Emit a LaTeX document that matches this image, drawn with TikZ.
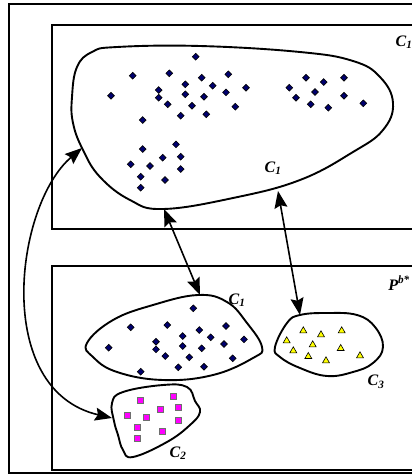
\documentclass[tikz,border=0pt]{standalone}
\usepackage{fontspec}
\setmainfont{Liberation Serif}
\usetikzlibrary{shapes.geometric,arrows.meta}
\definecolor{navy}{RGB}{0,0,110}
\definecolor{pinkpt}{RGB}{255,0,255}
\definecolor{yellowpt}{RGB}{255,255,0}
\definecolor{greyedge}{RGB}{110,110,110}
\tikzset{
  frame/.style={draw, line width=1.5pt},
  panel/.style={draw, line width=2.1pt},
  blob/.style={draw, line width=1.9pt, smooth cycle, tension=0.7},
  dia/.style={diamond, draw=black, line width=0.6pt, fill=navy, inner sep=0pt, minimum size=7pt},
  sq/.style={rectangle, draw=greyedge, line width=0.9pt, fill=pinkpt, inner sep=0pt, minimum size=6pt},
  tri/.style={regular polygon, regular polygon sides=3, draw=black, line width=0.6pt, fill=yellowpt, inner sep=0pt, minimum size=8pt},
  lab/.style={font=\fontsize{16}{16}\selectfont\bfseries\itshape, inner sep=0pt},
  head/.tip={Stealth[length=17pt,width=13pt,inset=2.5pt]},
  link/.style={line width=1.6pt, head-head}
}
\begin{document}
\begin{tikzpicture}[x=1pt,y=-1pt]
\useasboundingbox (0,0) rectangle (412,475);
\fill[white] (0,0) rectangle (412,475);

% frames
\draw[frame] (9,4) rectangle (430,473);
\draw[panel] (52,25) rectangle (430,229);
\draw[panel] (52,266) rectangle (430,470);

% large cluster in the upper panel
\draw[blob] plot coordinates {(72,97) (77,67) (92,52) (117,47) (200,46) (300,52) (353,61) (380,77) (393,103) (383,130) (353,152) (300,180) (233,198) (163,209) (130,200) (100,177) (83,150) (73,123)};

% clusters in the lower panel
\draw[blob] plot coordinates {(87,343) (113,320) (153,305) (198,295) (227,302) (247,323) (262,347) (253,358) (213,375) (163,380) (117,372) (93,357)};
\draw[blob] plot coordinates {(275,347) (287,323) (300,315) (327,313) (357,315) (375,327) (383,347) (373,363) (353,372) (327,376) (300,368) (280,357)};
\draw[blob] plot coordinates {(112,403) (123,392) (163,385) (187,387) (195,401) (200,412) (190,425) (167,442) (133,457) (123,450) (118,435) (114,421)};

% points
\foreach \px/\py [count=\i] in {195.7/56.7,132.7/75.7,169.3/73.3,201.7/77.7,228.3/74.3,185.3/84.3,212.7/85.7,158.7/90,246/87.7,111/95.7,158.7/97.7,185.3/94.3,204/96.7,226/92.3,167.7/104.3,192/105.7,235.3/106.7,180.7/115.7,206.3/114.3,142.7/120,306/77.7,323.7/82,344/77.7,289.3/87.7,315/92,296/97.7,344/95.7,310.7/104.3,328.3/107.7,363.3/103.3,142.7/149,176/144.3,162.7/157.7,180.7/156.7,130.7/164.3,150/166,180.7/169,140.7/176.7,165/180,140.7/187.7}
  \node[dia] (u\i) at (\px,\py) {};
\foreach \px/\py [count=\i] in {193.3/308.3,130.7/327.3,167.3/325,226/326,182.7/336,199.3/330,210.7/337.3,244/339.3,156/341.7,182.7/346,201.7/348.3,224/344,108.7/347.7,156/349.3,165.3/356,189.3/357.3,232.7/358.3,178.3/367.3,204/366.7,140.7/371.7}
  \node[dia] (b\i) at (\px,\py) {};
\foreach \px/\py [count=\i] in {140/400,173.3/396,160/409,178.3/407.7,127.7/415.7,146.7/417.7,178.3/420,137.7/427.7,162.7/431,137.7/438.3}
  \node[sq] (s\i) at (\px,\py) {};
\foreach \px/\py [count=\i] in {303.3/330,321/334,341.7/330,286.7/340,312.7/344,293.3/350,340.7/347.7,308.3/355.7,326/360,360/355}
  \node[tri] (t\i) at (\px,\py+0.8) {};

% labels
\node[lab] (lpanel) at (404,42) {C\textsubscript{1}};
\node[lab] (lbig) at (273,168) {C\textsubscript{1}};
\node[lab] (lone) at (237,300) {C\textsubscript{1}};
\node[lab] (lthree) at (376,382) {C\textsubscript{3}};
\node[lab] (ltwo) at (178,453) {C\textsubscript{2}};
\node[lab] (lpb) at (399,283) {P\textsuperscript{b*}};

% attachment points on the outlines
\coordinate (bigL) at (82,148);
\coordinate (bigB) at (164,209);
\coordinate (bigR) at (278,191);
\coordinate (oneT) at (200,295);
\coordinate (threeT) at (300,315);
\coordinate (twoL) at (112,418);

% correspondences
\draw[link] (bigL) .. controls (15,205) and (-8,390) .. (twoL);
\draw[link] (bigB) -- (oneT);
\draw[link] (bigR) -- (threeT);
\end{tikzpicture}
\end{document}
